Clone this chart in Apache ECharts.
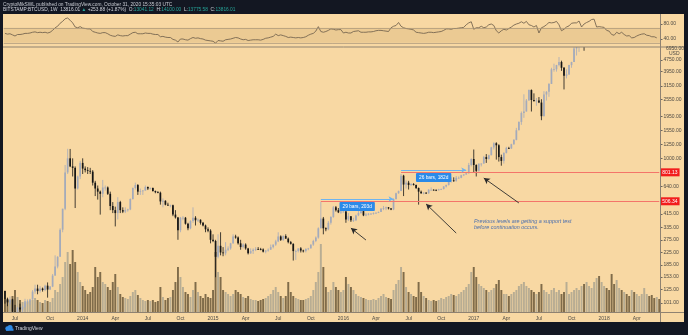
<!DOCTYPE html>
<html><head><meta charset="utf-8">
<script src="https://cdn.jsdelivr.net/npm/echarts@6/dist/echarts.min.js"></script>
<style>html,body{margin:0;padding:0;background:#131722;}#c{width:688px;height:335px;}</style>
</head><body><div id="c"></div>
<script>
// ---- DATA (weekly BITSTAMP:BTCUSD, weeks starting 2013-06-03) ----
const startDate = [2013, 5, 3];
const opens = [122,108,102,107,88,76,94,91,95,104,104,107,121,127,122,127,124,133,125,131,156,180,210,323,450,800,1000,880,860,620,750,930,850,830,820,810,680,620,590,570,630,630,570,470,440,420,500,440,430,440,445,525,625,655,590,595,600,635,620,625,595,585,580,505,510,480,475,475,410,392,320,390,390,355,330,370,390,375,378,360,345,325,318,275,270,210,250,225,222,235,240,260,290,285,260,245,255,240,222,230,235,238,237,236,228,232,235,245,255,268,290,275,292,280,265,258,230,230,240,232,230,238,240,255,270,285,330,385,330,325,360,395,460,440,425,430,430,380,400,375,375,405,420,433,405,410,415,416,420,422,428,450,455,460,452,445,525,575,595,760,660,680,655,665,655,625,590,575,580,575,608,608,607,603,612,615,640,655,700,705,700,735,735,765,775,790,900,990,900,820,920,920,1020,990,1050,1190,1270,1230,1020,960,1090,1180,1170,1250,1340,1560,1780,2050,2100,2500,2950,2520,2480,2500,2420,1950,2750,2870,3250,4100,4100,4380,4600,4200,3700,3780,4380,4600,5700,6000,6100,7400,5900,8000,9500,11200,15000,19000,13500,13500,14000,13700,11600,11500,8200,8500,11000,9600,11400,9500,8200,8400,6900,7000,8100,8900,9300,9600,8500,8200,7400,7600];
const highs = [123,110,112,108,98,95,100,97,108,107,108,124,135,135,132,129,135,140,132,160,215,212,330,450,900,1163,1160,1000,880,760,960,1000,880,870,860,830,700,650,600,710,650,640,590,500,465,540,510,460,460,450,530,630,680,665,620,605,650,640,630,630,600,595,590,530,515,495,480,480,440,395,395,400,395,360,375,460,400,385,380,365,350,335,325,300,275,300,310,245,265,248,262,300,298,290,275,260,260,242,240,240,245,245,242,240,233,240,255,255,275,310,295,295,300,285,270,260,235,240,245,235,240,242,255,275,290,335,502,395,335,370,400,470,470,455,440,460,450,420,400,390,410,440,440,440,420,420,420,425,425,430,455,470,465,462,455,530,580,600,780,770,705,700,675,675,660,630,600,585,585,615,630,612,610,617,620,645,660,720,740,740,755,750,770,775,800,930,1000,1150,910,920,925,1040,1070,1060,1200,1290,1290,1250,1060,1100,1200,1200,1260,1350,1620,1800,2100,2760,2560,2980,2980,2800,2600,2640,2550,2900,2900,3300,4200,4480,4400,4980,4700,4250,4100,4400,4620,5850,6000,6200,7600,7800,8000,9700,11400,17200,19700,19200,16000,17200,15500,13700,12200,11700,9000,11200,11700,11400,11700,9800,9200,8500,7500,8200,9000,9700,9900,9600,8900,8500,7800,7800];
const lows = [100,96,98,85,66,74,88,87,94,100,98,106,117,116,119,121,122,110,124,130,155,175,210,310,440,780,870,750,455,610,720,780,800,780,780,650,550,520,410,540,600,560,440,420,340,380,420,420,420,430,440,520,610,560,560,560,600,605,610,590,575,575,480,460,475,470,460,400,385,275,310,375,350,320,325,360,345,365,350,340,310,310,260,265,152,205,215,212,215,230,235,258,280,255,235,240,235,218,220,220,230,234,233,225,222,228,235,240,250,265,270,270,280,260,255,198,200,225,225,225,225,233,240,250,265,280,330,300,315,320,350,390,430,420,415,425,360,370,365,365,370,400,415,400,400,405,410,410,415,420,428,440,440,445,440,440,520,570,595,550,620,610,645,650,615,480,570,565,570,570,600,600,595,600,605,610,630,650,680,690,690,725,730,755,770,785,880,800,750,810,880,920,930,980,1050,1150,980,950,890,920,1080,1160,1160,1240,1330,1560,1700,1900,2100,2500,2100,2450,2300,2400,1830,1950,2500,2650,3250,3950,3950,4300,4000,2980,3550,3750,4200,4600,5100,5400,6100,5500,5900,7900,9000,11000,14500,11000,12000,12800,12500,9000,10000,7800,5920,8000,9300,9400,8600,7300,8100,6500,6500,6600,8000,8700,9100,8400,8000,7300,7000,6700];
const closes = [108,102,107,88,76,94,91,95,104,104,107,121,127,122,127,124,133,125,131,156,180,210,323,450,800,1000,880,860,620,750,930,850,830,820,810,680,620,590,570,630,630,570,470,440,420,500,440,430,440,445,525,625,655,590,595,600,635,620,625,595,585,580,505,510,480,475,475,410,392,320,390,390,355,330,370,390,375,378,360,345,325,318,275,270,210,250,225,222,235,240,260,290,285,260,245,255,240,222,230,235,238,237,236,228,232,235,245,255,268,290,275,292,280,265,258,230,230,240,232,230,238,240,255,270,285,330,385,330,325,360,395,460,440,425,430,430,380,400,375,375,405,420,433,405,410,415,416,420,422,428,450,455,460,452,445,525,575,595,760,660,680,655,665,655,625,590,575,580,575,608,608,607,603,612,615,640,655,700,705,700,735,735,765,775,790,900,990,900,820,920,920,1020,990,1050,1190,1270,1230,1020,960,1090,1180,1170,1250,1340,1560,1780,2050,2100,2500,2950,2520,2480,2500,2420,1950,2750,2870,3250,4100,4100,4380,4600,4200,3700,3780,4380,4600,5700,6000,6100,7400,5900,8000,9500,11200,15000,19000,13500,13500,14000,13700,11600,11500,8200,8500,11000,9600,11400,9500,8200,8400,6900,7000,8100,8900,9300,9600,8500,8200,7400,7600,6800];
const volumes = [14,12,11,16,22,15,12,10,9,10,11,12,14,12,10,9,12,11,10,14,
22,20,28,35,50,60,48,62,50,40,30,26,22,18,20,25,45,35,40,30,
28,25,22,30,38,25,18,15,14,13,16,20,22,17,14,12,11,12,11,12,10,11,25,15,12,
14,15,22,30,45,35,25,20,18,15,22,30,20,16,14,18,15,14,22,60,
40,35,22,20,18,16,18,22,20,18,15,14,16,13,12,12,11,12,13,14,16,18,22,25,20,16,14,16,30,20,
16,14,13,12,12,13,14,16,22,30,40,68,45,25,20,22,30,25,22,20,22,35,28,25,22,18,16,15,14,13,
12,12,13,12,14,16,18,15,14,13,22,28,32,45,40,25,20,18,16,15,30,20,16,14,12,11,12,11,12,14,
13,15,16,18,17,16,18,20,22,25,28,40,45,35,28,26,24,22,20,22,24,28,32,22,18,18,16,18,20,22,
26,28,30,26,24,22,20,18,20,28,22,20,18,22,24,20,22,18,20,30,18,20,22,24,22,26,28,30,26,24,
30,34,36,30,26,24,22,38,28,32,24,22,20,18,16,22,20,18,16,18,24,18,16,17,14,15,13];
const rsi = [55,53,54,51,48,52,52,53,55,55,56,58,59,57,58,57,58,56,58,63,
70,74,82,87,94,96,90,83,72,70,73,69,68,67,67,60,58,56,55,57,
57,54,50,48,47,51,49,48,49,49,53,57,58,54,54,54,56,55,55,53,52,52,46,47,45,
44,44,39,37,32,40,40,38,37,41,44,42,43,41,40,37,36,35,34,29,
36,35,34,38,39,40,42,44,43,40,38,39,36,37,38,38,38,37,39,42,43,45,47,53,49,51,49,47,44,
45,44,43,44,43,44,46,50,53,55,61,73,60,58,60,63,67,66,64,65,65,56,58,56,56,60,61,62,58,58,
58,59,59,60,62,63,63,62,61,60,70,74,76,84,74,70,68,67,66,64,58,57,56,55,56,58,58,57,58,59,
60,63,67,67,66,68,68,69,70,71,78,83,86,66,70,70,74,70,72,78,80,76,62,56,62,66,64,68,72,77,
80,82,86,82,87,78,76,72,76,56,70,73,78,84,83,84,87,78,62,66,72,75,82,83,83,88,72,80,84,87,
92,93,72,73,72,71,63,61,52,50,58,54,58,52,48,49,43,44,48,51,53,54,50,49,46,46,43];
const priceTicks = [101,125,153,185,225,275,335,415,640,1000,1250,1550,1950,2550,3150,3950,4750];
const rsiTicks = [40, 80];
const monthNames = ['Jan','Feb','Mar','Apr','May','Jun','Jul','Aug','Sep','Oct','Nov','Dec'];
const redLevels = [506.34, 801.13];
const redStarts = ['2015-11-02', '2016-06-13'];
const rangeFrom = ['2015-11-02', '2016-06-13'];
const rangeTo = ['2016-05-23', '2016-12-12'];
const rangePrice = [525, 830];
const rangeText = ['29 bars, 203d', '26 bars, 182d'];
const arrowFrom = [['2016-03-07', 274], ['2016-11-14', 306], ['2017-05-08', 493]];
const arrowTo = [['2016-01-25', 331], ['2016-08-22', 485], ['2017-01-30', 732]];
const noteLines = ['Previous levels are getting a support test', 'before continuation occurs.'];

// ---- BUILD ----
const weeks = [];
for (let i = 0; i < closes.length; i++) {
  const d = new Date(Date.UTC(startDate[0], startDate[1], startDate[2] + 7 * i));
  weeks.push(d.toISOString().slice(0, 10));
}
const candleData = closes.map((c, i) => [i, opens[i], c, lows[i], highs[i]]);
const UPC = '#a3aabb', DNC = '#151515';
const UPV = '#b8ad93', DNV = '#806c4a';
const volData = volumes.map((v, i) => ({ value: v, itemStyle: { color: closes[i] >= opens[i] ? UPV : DNV } }));

const FONT = 'Liberation Sans';
const BG = '#f8d8a3';
const SEP = '#8f8271';
const L = 3.72, W = 656.8;

const markLines = [];
redLevels.forEach((p, k) => {
  markLines.push([
    { coord: [redStarts[k], p], lineStyle: { color: '#f4756a', width: 1, type: 'solid' },
      label: { show: true, position: 'end', formatter: p.toFixed(2), color: '#fff', backgroundColor: '#f21d1d',
               fontSize: 5, fontFamily: FONT, padding: [1.5, 2], distance: 1 } },
    { coord: [weeks[weeks.length - 1], p] }
  ]);
});
rangePrice.forEach((p, k) => {
  markLines.push([
    { coord: [rangeFrom[k], p], symbol: 'none', lineStyle: { color: '#6fb4ee', width: 1, type: 'solid' },
      label: { show: true, position: 'insideMiddleBottom', formatter: rangeText[k], color: '#fff', backgroundColor: '#2a8ae8',
               fontSize: 4.8, fontFamily: FONT, padding: [2, 3], distance: 3, borderRadius: 1 } },
    { coord: [rangeTo[k], p], symbol: 'arrow', symbolSize: [4, 5] }
  ]);
});
arrowFrom.forEach((a, k) => {
  markLines.push([
    { coord: a, symbol: 'none', lineStyle: { color: '#2b2b2b', width: 0.9, type: 'solid' }, label: { show: false } },
    { coord: arrowTo[k], symbol: 'arrow', symbolSize: [5, 6] }
  ]);
});

function renderCandle(params, api) {
  const i = api.value(0);
  const o = api.value(1), c = api.value(2), lo = api.value(3), hi = api.value(4);
  const pO = api.coord([i, o]), pC = api.coord([i, c]);
  const pL = api.coord([i, lo]), pH = api.coord([i, hi]);
  const x = pO[0];
  const bw = 1.7;
  const col = c >= o ? UPC : DNC;
  const top = Math.min(pO[1], pC[1]);
  const h = Math.max(Math.abs(pO[1] - pC[1]), 0.8);
  return { type: 'group', children: [
    { type: 'line', shape: { x1: x, y1: pH[1], x2: x, y2: pL[1] }, style: { stroke: col, lineWidth: 0.8 } },
    { type: 'rect', shape: { x: x - bw / 2, y: top, width: bw, height: h }, style: { fill: col } }
  ] };
}

const chart = echarts.init(document.getElementById('c'), null, { renderer: 'canvas', width: 688, height: 335 });
const option = {
  animation: false,
  backgroundColor: '#131722',
  textStyle: { fontFamily: FONT },
  grid: [
    { left: L, width: W, top: 14, height: 33, outerBoundsMode: 'none', containLabel: false },
    { left: L, width: W, top: 47, height: 265, outerBoundsMode: 'none', containLabel: false },
    { left: L, width: W, top: 222, height: 90, outerBoundsMode: 'none', containLabel: false }
  ],
  xAxis: [
    { type: 'category', gridIndex: 0, data: weeks, show: false, boundaryGap: true },
    { type: 'category', gridIndex: 1, data: weeks, boundaryGap: true,
      axisLine: { show: false }, axisTick: { show: false }, splitLine: { show: false },
      axisLabel: {
        show: true, fontSize: 5, color: '#4d4a44', fontFamily: FONT, margin: 4, showMinLabel: true,
        interval: (idx, val) => { const d = new Date(val); return d.getUTCDate() <= 7 && d.getUTCMonth() % 3 === 0; },
        formatter: (val) => { const d = new Date(val); return d.getUTCMonth() === 0 ? String(d.getUTCFullYear()) : monthNames[d.getUTCMonth()]; }
      } },
    { type: 'category', gridIndex: 2, data: weeks, show: false, boundaryGap: true }
  ],
  yAxis: [
    { type: 'value', gridIndex: 0, position: 'right', min: 18.67, max: 106.67, splitLine: { show: false },
      axisLine: { show: false },
      axisTick: { show: true, length: 2, lineStyle: { color: '#6b655c' }, customValues: rsiTicks },
      axisLabel: { show: true, fontSize: 5, color: '#4d4a44', margin: 3, fontFamily: FONT, customValues: rsiTicks, formatter: v => Number(v).toFixed(2) } },
    { type: 'log', logBase: 10, gridIndex: 1, position: 'right', min: 87.6, max: 5837, splitLine: { show: false },
      axisLine: { show: false },
      axisTick: { show: true, length: 2, lineStyle: { color: '#6b655c' }, customValues: priceTicks },
      axisLabel: { show: true, fontSize: 5, color: '#4d4a44', margin: 3, fontFamily: FONT, customValues: priceTicks, formatter: v => Number(v).toFixed(2) } },
    { type: 'value', gridIndex: 2, min: 0, max: 90, show: false }
  ],
  series: [
    { type: 'line', name: 'RSI', xAxisIndex: 0, yAxisIndex: 0, data: rsi, symbol: 'none', z: 3,
      lineStyle: { color: '#776650', width: 0.9 },
      markArea: { silent: true, itemStyle: { color: 'rgba(150,105,50,0.13)' }, data: [[{ yAxis: 30 }, { yAxis: 70 }]] },
      markLine: { silent: true, symbol: 'none', label: { show: false }, lineStyle: { color: '#a8957a', width: 0.7, type: 'solid' },
                  data: [{ yAxis: 70 }, { yAxis: 30 }] } },
    { type: 'bar', name: 'Volume', xAxisIndex: 2, yAxisIndex: 2, data: volData, barWidth: '78%', z: 1 },
    { type: 'custom', name: 'BTCUSD', xAxisIndex: 1, yAxisIndex: 1, data: candleData, z: 3, clip: true,
      encode: { x: 0, y: [1, 2, 3, 4] }, renderItem: renderCandle,
      markLine: { silent: true, symbol: ['none', 'none'], data: markLines, animation: false } }
  ],
  graphic: [
    { type: 'rect', z: -10, silent: true, shape: { x: 3, y: 14, width: 681, height: 308 }, style: { fill: BG } },
    { type: 'line', z: 10, silent: true, shape: { x1: 3, y1: 47, x2: 684, y2: 47 }, style: { stroke: SEP, lineWidth: 1 } },
    { type: 'line', z: 10, silent: true, shape: { x1: 660.5, y1: 14, x2: 660.5, y2: 322 }, style: { stroke: SEP, lineWidth: 1 } },
    { type: 'line', z: 10, silent: true, shape: { x1: 3, y1: 312.5, x2: 684, y2: 312.5 }, style: { stroke: SEP, lineWidth: 1 } },
    { type: 'text', z: 10, silent: true, style: { x: 3, y: 4.5, text: 'CryptoMikSWL published on TradingView.com, October 31, 2020 15:35:03 UTC',
        fill: '#c9ccd3', fontSize: 4.8, fontFamily: FONT, verticalAlign: 'middle' } },
    { type: 'text', z: 10, silent: true, style: { x: 3, y: 10, verticalAlign: 'middle', fontSize: 4.8, fontFamily: FONT,
        text: '{w|BITSTAMP:BTCUSD, 1W}  {w|13816.01} {g|▲} {w|+253.88 (+1.87%)}  {w|O:}{g|13041.12}  {w|H:}{g|14100.00}  {w|L:}{g|13775.58}  {w|C:}{g|13816.01}',
        rich: { w: { fill: '#d1d4dc', fontSize: 4.8, fontFamily: FONT }, g: { fill: '#26a69a', fontSize: 4.8, fontFamily: FONT } } } },
    { type: 'text', z: 10, silent: true, style: { x: 666, y: 48.5, text: '6950.00', fill: '#4d4a44', fontSize: 5, fontFamily: FONT, verticalAlign: 'middle' } },
    { type: 'text', z: 10, silent: true, style: { x: 669, y: 53.5, text: 'USD', fill: '#4d4a44', fontSize: 5, fontFamily: FONT, verticalAlign: 'middle' } },
    { type: 'text', z: 10, silent: true, style: { x: 474, y: 221, text: noteLines[0], fill: '#4b6fae', fontSize: 5.4, fontStyle: 'italic', fontFamily: FONT, verticalAlign: 'middle' } },
    { type: 'text', z: 10, silent: true, style: { x: 474, y: 227.5, text: noteLines[1], fill: '#4b6fae', fontSize: 5.4, fontStyle: 'italic', fontFamily: FONT, verticalAlign: 'middle' } },
    { type: 'circle', z: 10, silent: true, shape: { cx: 7.5, cy: 328.5, r: 2.2 }, style: { fill: '#2e8ae6' } },
    { type: 'circle', z: 10, silent: true, shape: { cx: 10, cy: 327.5, r: 2.6 }, style: { fill: '#2e8ae6' } },
    { type: 'rect', z: 10, silent: true, shape: { x: 6, y: 328.5, width: 7.5, height: 2.3 }, style: { fill: '#2e8ae6' } },
    { type: 'text', z: 10, silent: true, style: { x: 15, y: 329, text: 'TradingView', fill: '#d1d4dc', fontSize: 5, fontFamily: FONT, verticalAlign: 'middle' } }
  ]
};
chart.setOption(option);
</script>
</body></html>
